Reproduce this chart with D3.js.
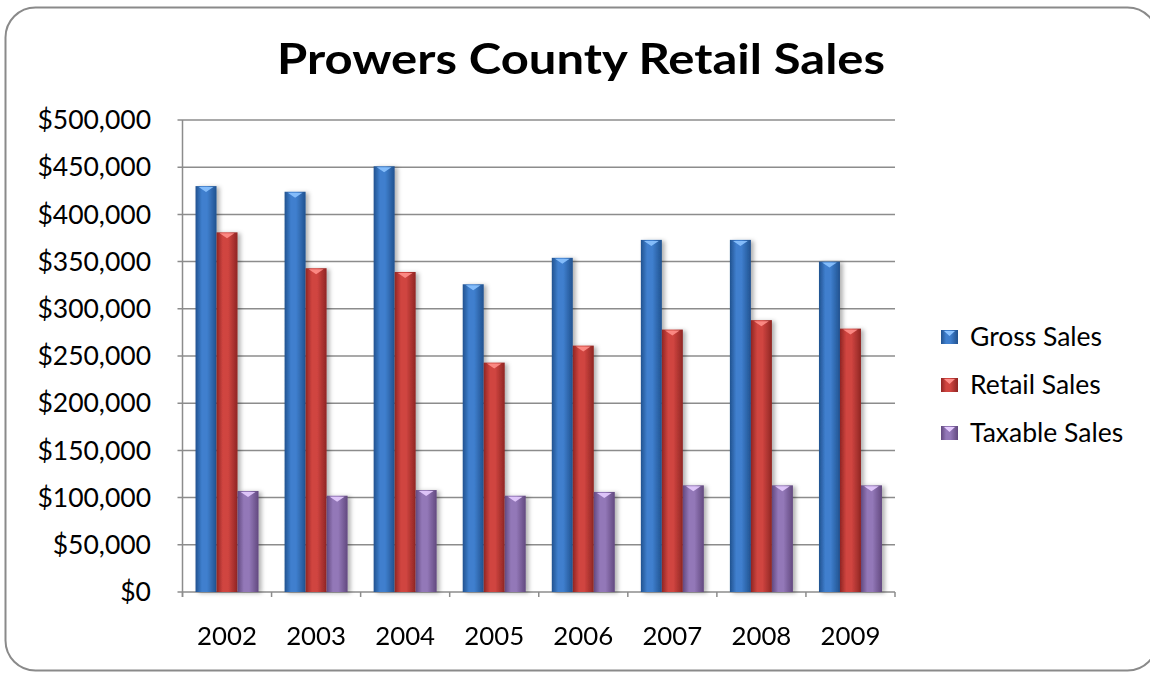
<!DOCTYPE html>
<html>
<head>
<meta charset="utf-8">
<script src="https://cdn.jsdelivr.net/npm/d3@7"></script>
<style>
  body { margin: 0; background: #fff; }
  svg text { font-family: Lato, "Open Sans", sans-serif; fill: #000; }
</style>
</head>
<body>
<svg id="chart" width="1150" height="675"></svg>
<script>
// data
var years = ["2002", "2003", "2004", "2005", "2006", "2007", "2008", "2009"];
var seriesNames = ["Gross Sales", "Retail Sales", "Taxable Sales"];
var grossSales   = [430000, 424000, 451000, 326000, 354000, 373000, 373000, 350000];
var retailSales  = [381000, 343000, 339000, 243000, 261000, 278000, 288000, 279000];
var taxableSales = [107000, 102000, 108000, 102000, 106000, 113000, 113000, 113000];
var yTicks = [0, 50000, 100000, 150000, 200000, 250000, 300000, 350000, 400000, 450000, 500000];

var seriesValues = [grossSales, retailSales, taxableSales];
var colors = [
  {mid: "#3f7fce", edge: "#21528f", cap: "#8cc3ff"},
  {mid: "#d04540", edge: "#8f2523", cap: "#ff8f8a"},
  {mid: "#9378b8", edge: "#62497f", cap: "#e6ccff"}
];

var svg = d3.select("#chart");
var margin = {left: 182.5, right: 895, top: 120, bottom: 592};

// outer frame (right side runs off the picture)
svg.append("rect")
  .attr("x", 5.5).attr("y", 7.5)
  .attr("width", 1152).attr("height", 663)
  .attr("rx", 30).attr("ry", 30)
  .attr("fill", "#fff")
  .attr("stroke", "#8a8a8a").attr("stroke-width", 2);

var defs = svg.append("defs");
colors.forEach(function(c, i){
  var g = defs.append("linearGradient").attr("id", "grad" + i)
    .attr("x1", "0").attr("x2", "1").attr("y1", "0").attr("y2", "0");
  g.append("stop").attr("offset", "0%").attr("stop-color", c.edge);
  g.append("stop").attr("offset", "30%").attr("stop-color", c.mid);
  g.append("stop").attr("offset", "55%").attr("stop-color", c.mid);
  g.append("stop").attr("offset", "100%").attr("stop-color", c.edge);
});
var shadow = defs.append("filter").attr("id", "shadow")
  .attr("x", "-30%").attr("y", "-10%").attr("width", "170%").attr("height", "130%");
shadow.append("feDropShadow").attr("dx", 3).attr("dy", 1).attr("stdDeviation", 2)
  .attr("flood-color", "#000").attr("flood-opacity", 0.3);

var x0 = d3.scaleBand().domain(years).range([margin.left, margin.right]);
var groupW = 63;
var x1 = d3.scaleBand().domain(seriesNames).range([0, groupW]);
var y = d3.scaleLinear().domain([0, 500000]).range([margin.bottom, margin.top]);

// gridlines
svg.append("g").selectAll("line").data(yTicks).join("line")
  .attr("x1", margin.left - 5).attr("x2", margin.right)
  .attr("y1", function(d){ return y(d); }).attr("y2", function(d){ return y(d); })
  .attr("stroke", "#8c8c8c").attr("stroke-width", 1.5);

// y labels
svg.append("g").selectAll("text").data(yTicks).join("text")
  .attr("x", 151).attr("y", function(d){ return y(d); })
  .attr("dy", "0.35em")
  .attr("text-anchor", "end")
  .style("font-size", "26.5px")
  .text(function(d){ return "$" + d3.format(",")(d); });

// axes lines
svg.append("line")
  .attr("x1", margin.left).attr("x2", margin.left)
  .attr("y1", margin.top).attr("y2", margin.bottom + 5)
  .attr("stroke", "#8c8c8c").attr("stroke-width", 1.5);
svg.append("g").selectAll("line").data(years.concat(["end"])).join("line")
  .attr("x1", function(d, i){ return margin.left + i * x0.bandwidth(); })
  .attr("x2", function(d, i){ return margin.left + i * x0.bandwidth(); })
  .attr("y1", margin.bottom).attr("y2", margin.bottom + 5)
  .attr("stroke", "#8c8c8c").attr("stroke-width", 1.5);

// bars
var offset = (x0.bandwidth() - groupW) / 2;
seriesNames.forEach(function(name, si){
  var bw = x1.bandwidth();
  var g = svg.append("g").attr("filter", "url(#shadow)");
  var bars = g.selectAll("g").data(seriesValues[si]).join("g")
    .attr("transform", function(d, i){
      return "translate(" + (x0(years[i]) + offset + x1(name)) + ",0)";
    });
  bars.append("rect")
    .attr("x", 0).attr("width", bw)
    .attr("y", function(d){ return y(d); })
    .attr("height", function(d){ return y(0) - y(d); })
    .attr("fill", "url(#grad" + si + ")");
  // bevel cap on top
  bars.append("path")
    .attr("d", function(d){
      var t = y(d);
      return "M" + (bw * 0.15) + "," + (t + 1) + "L" + (bw * 0.85) + "," + (t + 1) +
        "L" + (bw * 0.5) + "," + (t + 6) + "Z";
    })
    .attr("fill", colors[si].cap).attr("opacity", 0.9);
});

// x labels
svg.append("g").selectAll("text").data(years).join("text")
  .attr("x", function(d){ return x0(d) + x0.bandwidth() / 2; })
  .attr("y", 645)
  .attr("text-anchor", "middle")
  .style("font-size", "25.8px")
  .text(function(d){ return d; });

// title
svg.append("text")
  .attr("x", 581).attr("y", 74)
  .attr("text-anchor", "middle")
  .attr("textLength", 608).attr("lengthAdjust", "spacingAndGlyphs")
  .style("font-size", "42px").style("font-weight", "bold")
  .text("Prowers County Retail Sales");

// legend
var legend = svg.append("g").selectAll("g").data(seriesNames).join("g")
  .attr("transform", function(d, i){ return "translate(941," + (337 + i * 48) + ")"; });
legend.append("rect")
  .attr("x", 0).attr("y", -7).attr("width", 17).attr("height", 14)
  .attr("fill", function(d, i){ return "url(#grad" + i + ")"; });
legend.append("path")
  .attr("d", "M3,-6L14,-6L8.5,-1Z")
  .attr("fill", function(d, i){ return colors[i].cap; });
legend.append("text")
  .attr("x", 29).attr("y", 0).attr("dy", "0.35em")
  .style("font-size", "26.5px")
  .text(function(d){ return d; });
</script>
</body>
</html>
